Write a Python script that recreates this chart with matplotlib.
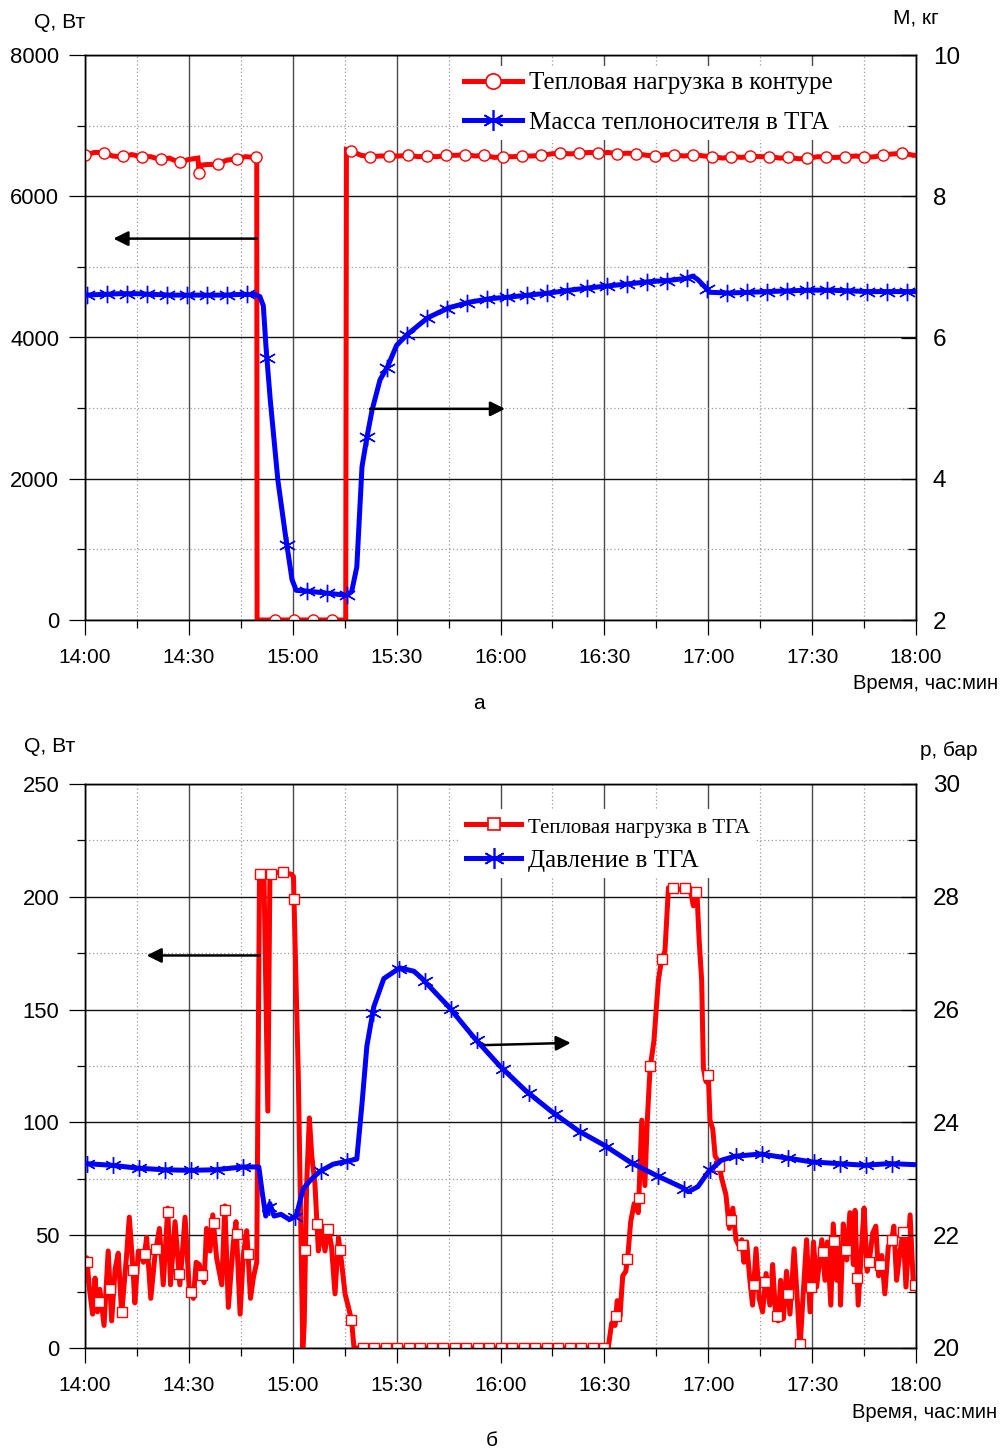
import numpy as np
import matplotlib
matplotlib.use("Agg")
import matplotlib.pyplot as plt
from matplotlib.ticker import MultipleLocator, FixedLocator
from matplotlib.lines import Line2D

# ---------------- data ----------------
time_ticks = [0, 30, 60, 90, 120, 150, 180, 210, 240]
time_labels = ["14:00", "14:30", "15:00", "15:30", "16:00", "16:30", "17:00", "17:30", "18:00"]

# panel a: heat load in loop, W
t_a_q = [0.0, 2.7, 5.2, 8.0, 10.7, 13.5, 16.2, 19.0, 21.7, 24.4, 27.1, 29.9, 32.6, 33.0, 33.6,
         35.4, 38.1, 40.9, 43.6, 46.4, 49.1, 49.6, 49.7, 75.3, 75.5, 77.0, 79.7, 82.4, 85.2,
         87.9, 90.7, 93.4, 96.2, 98.9, 101.7, 104.4, 107.2, 109.9, 112.7, 115.4, 118.2, 120.9,
         123.7, 126.4, 129.2, 131.9, 134.7, 137.4, 140.2, 142.9, 145.7, 148.4, 151.2, 153.9,
         156.7, 159.4, 162.2, 164.9, 167.7, 170.4, 173.2, 175.9, 178.7, 181.4, 184.2, 186.9,
         189.7, 192.4, 195.2, 197.9, 200.7, 203.4, 206.2, 208.9, 211.7, 214.4, 217.2, 219.9,
         222.7, 225.4, 228.2, 230.9, 233.7, 236.4, 239.2, 240.0]
q_a = [6580, 6620, 6620, 6570, 6560, 6590, 6560, 6560, 6520, 6540, 6480, 6520, 6540, 6300, 6440,
       6450, 6450, 6510, 6530, 6560, 6550, 6550, 0, 0, 6660, 6640, 6580, 6560, 6570,
       6570, 6570, 6580, 6560, 6570, 6560, 6580, 6580, 6590, 6570, 6580, 6550, 6560,
       6560, 6570, 6570, 6580, 6600, 6610, 6600, 6610, 6620, 6610, 6620, 6600,
       6610, 6600, 6580, 6570, 6590, 6580, 6570, 6590, 6570, 6560, 6540, 6560,
       6550, 6570, 6560, 6560, 6540, 6550, 6530, 6540, 6560, 6550, 6550, 6560,
       6570, 6550, 6560, 6590, 6600, 6610, 6580, 6580]

# panel a: coolant mass in heat pipe, kg
t_a_m = [0, 5, 10, 15, 20, 25, 30, 35, 40, 45, 49, 50.5, 51.5, 52.3, 53.5, 55.7, 58, 59.8, 61,
         64, 70, 75.5, 77, 78.5, 80, 81.4, 82.9, 85.2, 87.5, 90, 93, 99, 105, 111, 117, 122,
         128, 134, 140, 145, 151, 157, 163, 169, 174, 175.5, 177, 180.5, 186, 192, 197, 203,
         209, 215, 221, 226, 232, 240]
m_a = [6.60, 6.61, 6.62, 6.62, 6.61, 6.60, 6.60, 6.60, 6.60, 6.61, 6.61, 6.58, 6.45, 5.85, 5.12,
       3.98, 3.16, 2.57, 2.42, 2.41, 2.38, 2.35, 2.40, 2.75, 4.17, 4.58, 4.97, 5.40, 5.60, 5.89,
       6.04, 6.28, 6.42, 6.50, 6.55, 6.57, 6.60, 6.63, 6.67, 6.70, 6.73, 6.76, 6.79, 6.81, 6.84,
       6.87, 6.82, 6.64, 6.63, 6.64, 6.65, 6.66, 6.67, 6.67, 6.66, 6.65, 6.65, 6.65]

# panel b: heat load in heat pipe, W
t_b_q = [0.0, 0.5, 1.3, 2.2, 2.9, 3.6, 4.3, 5.5, 6.7, 7.7, 8.7, 9.6, 10.6, 12.0, 12.8, 13.9, 14.4,
         15.4, 16.9, 17.8, 19.0, 20.2, 21.5, 22.6, 23.9, 24.7, 26.0, 27.4, 28.9, 30.1, 31.3, 32.1,
         33.0, 34.4, 35.1, 36.1, 36.9, 38.0, 39.5, 40.4, 41.4, 42.8, 43.6, 44.8, 45.7, 46.7, 47.8,
         48.6, 49.6, 50.4, 51.7, 52.8, 53.4, 56.3, 59.6, 60.2, 61.6, 62.9, 63.3, 64.0, 64.8, 65.5,
         66.4, 67.4, 68.4, 69.3, 70.3, 71.2, 72.2, 73.2, 74.1, 75.1, 76.1, 77.0, 77.7, 151.1,
         152.1, 153.1, 153.7, 154.5, 155.3, 156.2, 156.9, 157.6, 158.6, 159.8, 160.8, 161.7, 162.4,
         163.2, 164.3, 165.6, 166.5, 167.5, 168.5, 169.7, 170.9, 173.0, 174.7, 175.7, 176.7, 177.4,
         178.1, 178.6, 179.4, 180.0, 180.5, 181.3, 182.0, 182.9, 183.9, 185.1, 186.1, 187.1, 188.0,
         189.0, 189.7, 190.3, 191.1, 191.9, 192.8, 193.8, 194.7, 195.7, 196.7, 197.8, 198.6, 199.4,
         200.2, 200.9, 201.7, 202.6, 203.6, 204.8, 205.7, 206.5, 207.5, 208.4, 209.4, 210.4, 211.3,
         212.8, 213.7, 214.4, 215.4, 216.1, 217.1, 217.9, 218.2, 219.0, 220.0, 220.9, 221.9, 222.4,
         223.3, 224.3, 225.0, 225.9, 226.7, 227.5, 228.4, 229.2, 230.1, 231.0, 232.0, 233.0, 233.6,
         234.4, 235.4, 236.3, 237.1, 238.3, 239.2, 240.0]
q_b = [30, 40, 26, 15, 31, 16, 26, 10, 43, 12, 35, 42, 15, 41, 58, 34, 20,
       43, 38, 49, 22, 41, 53, 28, 62, 28, 56, 28, 58, 26, 22, 38,
       37, 29, 53, 43, 59, 40, 28, 63, 18, 46, 56, 15, 41, 52, 22,
       31, 38, 210, 208, 105, 210, 211, 210, 209, 121, 0, 10, 72, 102, 85,
       73, 43, 54, 43, 53, 45, 24, 49, 38, 24, 18, 12, 0, 0,
       11, 10, 21, 14, 32, 34, 43, 56, 64, 60, 101, 72, 101,
       124, 136, 163, 172, 176, 204, 204, 203, 204, 204, 196, 203, 180,
       163, 124, 118, 122, 101, 97, 85, 83, 75, 68, 53, 62, 48,
       45, 48, 38, 47, 32, 19, 44, 22, 16, 33, 19, 37, 16,
       12, 30, 13, 34, 15, 44, 22, 0, 26, 48, 16, 47, 27,
       48, 30, 47, 19, 55, 30, 45, 19, 55, 39, 60, 37, 61,
       19, 45, 62, 34, 41, 51, 54, 32, 41, 24, 45, 48, 54,
       30, 43, 52, 27, 59, 29, 27]

# panel b: pressure in heat pipe, bar
t_b_p = [0, 7.6, 15.1, 22.7, 30.2, 37.8, 45.4, 50.2, 51.2, 52.2, 53.4, 54.6, 56.6, 59, 61, 63, 65,
         67.8, 71.7, 75.6, 78.5, 80, 81.4, 83.4, 86.3, 90.9, 95, 97.2, 104.9, 112.4, 119.8, 127.3,
         134.8, 142.5, 150.1, 157.6, 165.3, 172.7, 174.2, 177, 180, 183.8, 187.7, 195.2, 202.6,
         209.8, 217.5, 225.2, 232.4, 240]
p_b = [23.27, 23.24, 23.19, 23.16, 23.15, 23.16, 23.21, 23.21, 22.75, 22.34, 22.56, 22.34, 22.37,
       22.28, 22.34, 22.82, 22.97, 23.13, 23.26, 23.31, 23.35, 24.33, 25.35, 26.05, 26.55, 26.74,
       26.68, 26.56, 26.06, 25.50, 25.00, 24.56, 24.19, 23.85, 23.59, 23.29, 23.05, 22.84, 22.77,
       22.86, 23.12, 23.33, 23.40, 23.44, 23.37, 23.30, 23.27, 23.24, 23.27, 23.25]

labels_a = ["Тепловая нагрузка в контуре", "Масса теплоносителя в ТГА"]
labels_b = ["Тепловая нагрузка в ТГА", "Давление в ТГА"]

# ---------------- style ----------------
RED = "#ff0000"
BLUE = "#0000ff"
SANS = ["Liberation Sans", "DejaVu Sans"]
SERIF = ["Liberation Serif", "DejaVu Serif"]
plt.rcParams["font.family"] = SANS
STAR = (6, 2, 0)

W, H = 1002, 1450
fig = plt.figure(figsize=(W / 100, H / 100), dpi=100)


def fx(px):
    return px / W


def fy(py):
    return 1 - py / H


def setup(ax, ax2, ymax_left, ymaj, ymin_, rlim, rmaj, rmin):
    ax.set_xlim(0, 240)
    ax.set_ylim(0, ymax_left)
    ax.xaxis.set_major_locator(FixedLocator(time_ticks))
    ax.set_xticklabels(time_labels)
    ax.xaxis.set_minor_locator(MultipleLocator(15))
    ax.yaxis.set_major_locator(MultipleLocator(ymaj))
    ax.yaxis.set_minor_locator(MultipleLocator(ymin_))
    ax.xaxis.grid(True, which="major", color="#4a4a4a", lw=1.0)
    ax.yaxis.grid(True, which="major", color="#111111", lw=1.0)
    ax.grid(True, which="minor", color="#9a9a9a", lw=0.9, ls=(0, (1, 2)))
    ax.tick_params(axis="x", which="major", direction="out", length=11, width=0.9,
                   labelsize=15, pad=9)
    ax.tick_params(axis="x", which="minor", direction="out", length=6, width=0.9)
    ax.tick_params(axis="y", which="major", direction="out", length=11.5, width=0.9,
                   labelsize=15.8, pad=7)
    ax.tick_params(axis="y", which="minor", direction="out", length=6, width=0.9)
    ax2.set_ylim(*rlim)
    ax2.yaxis.set_major_locator(MultipleLocator(rmaj))
    ax2.yaxis.set_minor_locator(MultipleLocator(rmin))
    ax2.tick_params(axis="y", which="major", direction="in", length=11, width=0.9,
                    labelsize=17.5, pad=12)
    ax2.tick_params(axis="y", which="minor", direction="in", length=6, width=0.9)
    for a in (ax, ax2):
        for s in a.spines.values():
            s.set_linewidth(1.0)
            s.set_color("black")
    ax.set_axisbelow(True)


arrow_kw = dict(arrowstyle="-|>", color="black", lw=1.8, mutation_scale=22,
                shrinkA=0, shrinkB=0)

# ---------------- panel a ----------------
ax = fig.add_axes([fx(85), fy(620), fx(831), 565 / H])
ax2 = ax.twinx()
setup(ax, ax2, 8000, 2000, 1000, (2, 10), 2, 1)

ax.plot(t_a_q, q_a, color=RED, lw=3.6, solid_joinstyle="miter", zorder=3)
mt = np.arange(0, 240.1, 5.49)
ax.plot(mt, np.interp(mt, t_a_q, q_a), ls="none", marker="o", ms=8, mfc="white",
        mec=RED, mew=1.0, zorder=4)
ax2.plot(t_a_m, m_a, color=BLUE, lw=3.6, zorder=3)
mt = np.arange(0.5, 240.1, 5.78)
ax2.plot(mt, np.interp(mt, t_a_m, m_a), ls="none", marker=STAR, ms=12.5, mec=BLUE,
         mew=1.0, zorder=4)

ax.annotate("", xy=(8.2, 5400), xytext=(49.6, 5400), arrowprops=arrow_kw)
ax2.annotate("", xy=(121.3, 4.99), xytext=(82.3, 4.99), arrowprops=arrow_kw)

h1 = Line2D([], [], color=RED, lw=3.6, marker="o", ms=11, mfc="white", mec=RED, mew=1.2)
h2 = Line2D([], [], color=BLUE, lw=3.6, marker=STAR, ms=15, mec=BLUE, mew=1.2)
leg = ax2.legend([h1, h2], labels_a, loc="upper left", bbox_to_anchor=(0.449, 0.981),
                 frameon=True, facecolor="white", edgecolor="none", framealpha=1,
                 fancybox=False, prop={"family": SERIF, "size": 18}, handlelength=2.3,
                 handletextpad=0.28, labelspacing=0.68, borderpad=0.25, borderaxespad=0)
leg.set_zorder(10)

fig.text(fx(60), fy(22), "Q, Вт", ha="center", va="center", fontsize=15.2)
fig.text(fx(916), fy(18), "M, кг", ha="center", va="center", fontsize=15)
fig.text(fx(998), fy(684), "Время, час:мин", ha="right", va="center", fontsize=14.5)
fig.text(fx(479), fy(704), "а", ha="center", va="center", fontsize=15)

# ---------------- panel b ----------------
bx = fig.add_axes([fx(85), fy(1348), fx(831), 564 / H])
bx2 = bx.twinx()
setup(bx, bx2, 250, 50, 25, (20, 30), 2, 1)

bx.plot(t_b_q, q_b, color=RED, lw=3.6, zorder=3)
mt = np.arange(0.6, 240.1, 3.32)
bx.plot(mt, np.interp(mt, t_b_q, q_b), ls="none", marker="s", ms=7, mfc="white",
        mec=RED, mew=1.0, zorder=4)
bx2.plot(t_b_p, p_b, color=BLUE, lw=3.6, zorder=3)
mt = np.arange(0.6, 240.1, 7.5)
bx2.plot(mt, np.interp(mt, t_b_p, p_b), ls="none", marker=STAR, ms=12, mec=BLUE,
         mew=1.0, zorder=4)

bx.annotate("", xy=(17.8, 174), xytext=(50.5, 174), arrowprops=arrow_kw)
bx2.annotate("", xy=(140.3, 25.41), xytext=(115.2, 25.37), arrowprops=arrow_kw)

g1 = Line2D([], [], color=RED, lw=3.6, marker="s", ms=9, mfc="white", mec=RED, mew=1.2)
g2 = Line2D([], [], color=BLUE, lw=3.6, marker=STAR, ms=15, mec=BLUE, mew=1.2)
leg2 = bx2.legend([g1, g2], labels_b, loc="upper left", bbox_to_anchor=(0.451, 0.955),
                  frameon=True, facecolor="white", edgecolor="none", framealpha=1,
                  fancybox=False, prop={"family": SERIF, "size": 18}, handlelength=2.2,
                  handletextpad=0.28, labelspacing=0.45, borderpad=0.25, borderaxespad=0)
leg2.get_texts()[0].set_fontsize(15)
leg2.set_zorder(10)

fig.text(fx(50), fy(747), "Q, Вт", ha="center", va="center", fontsize=15.2)
fig.text(fx(949), fy(751), "р, бар", ha="center", va="center", fontsize=15)
fig.text(fx(997), fy(1413), "Время, час:мин", ha="right", va="center", fontsize=14.5)
fig.text(fx(492), fy(1440), "б", ha="center", va="center", fontsize=15)

fig.savefig("out.png", dpi=100, facecolor="white")
